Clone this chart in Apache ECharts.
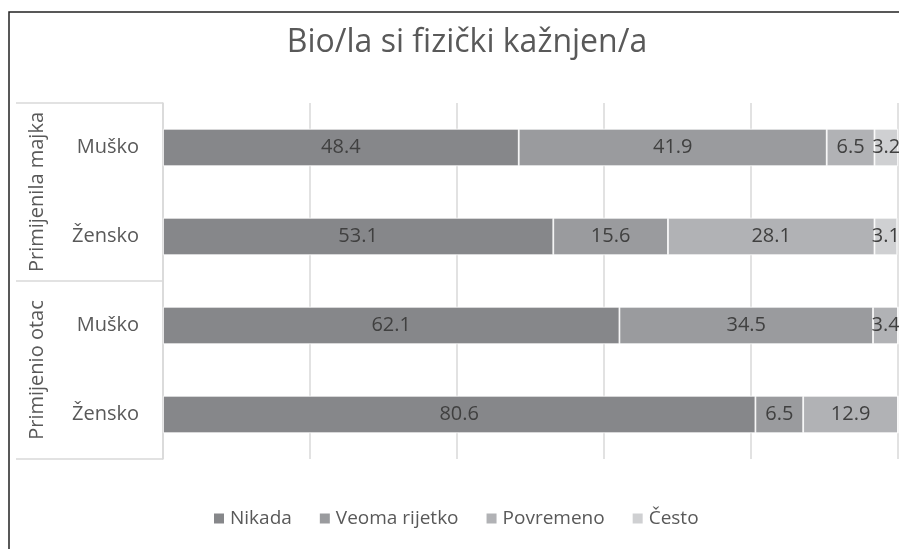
<!DOCTYPE html>
<html>
<head>
<meta charset="utf-8">
<script src="https://cdn.jsdelivr.net/npm/echarts@6/dist/echarts.min.js"></script>
<style>
html,body{margin:0;padding:0;background:#fff;overflow:hidden;}
#chart{width:899px;height:549px;}
</style>
</head>
<body>
<div id="chart"></div>
<script>
const titleText = 'Bio/la si fizički kažnjen/a';
const groups = ['Primijenila majka', 'Primijenio otac'];
const genders = ['Muško', 'Žensko'];
const seriesNames = ['Nikada', 'Veoma rijetko', 'Povremeno', 'Često'];
const nikada = [48.4, 53.1, 62.1, 80.6];
const veomaRijetko = [41.9, 15.6, 34.5, 6.5];
const povremeno = [6.5, 28.1, 3.4, 12.9];
const cesto = [3.2, 3.1, 0, 0];
const colors = ['#86878a', '#9a9b9e', '#b1b2b5', '#cfd0d2'];

const categories = [];
groups.forEach(g => genders.forEach(s => categories.push(g + '|' + s)));
const values = [nikada, veomaRijetko, povremeno, cesto];

const FONT = '"Open Sans", sans-serif';
const chart = echarts.init(document.getElementById('chart'));
chart.setOption({
  animation: false,
  textStyle: { fontFamily: FONT },
  title: {
    text: titleText,
    left: 462,
    textAlign: 'center',
    top: 22,
    textStyle: { fontFamily: FONT, fontSize: 32, fontWeight: 'normal', color: '#595959' }
  },
  legend: {
    data: seriesNames,
    left: 212,
    top: 509,
    padding: 0,
    itemWidth: 12,
    itemHeight: 12,
    itemGap: 26,
    icon: 'rect',
    textStyle: { fontFamily: FONT, fontSize: 19, color: '#595959' }
  },
  graphic: [{
    type: 'rect',
    shape: { x: 9, y: 12, width: 1000, height: 1000 },
    style: { fill: 'none', stroke: '#222', lineWidth: 1.5 },
    silent: true
  }],
  grid: { left: 163, right: 1, top: 103, bottom: 90, containLabel: false },
  xAxis: {
    type: 'value', min: 0, max: 100, interval: 20,
    axisLabel: { show: false }, axisLine: { show: false }, axisTick: { show: false },
    splitLine: { lineStyle: { color: '#d9d9d9', width: 1.5 } }
  },
  yAxis: [{
    type: 'category',
    data: categories,
    inverse: true,
    position: 'left',
    axisLine: { show: true, lineStyle: { color: '#d9d9d9', width: 1.5 } },
    axisTick: { show: false },
    axisLabel: {
      interval: 0, margin: 24, fontSize: 20, color: '#595959', fontFamily: FONT,
      formatter: v => v.split('|')[1]
    }
  }, {
    type: 'category',
    data: groups,
    inverse: true,
    position: 'left',
    offset: 0,
    axisLine: { show: false },
    axisTick: { show: true, interval: 0, length: 147, lineStyle: { color: '#d9d9d9', width: 1.5 } },
    axisLabel: { interval: 0, rotate: 90, margin: 116, fontSize: 20, color: '#595959', fontFamily: FONT }
  }],
  series: seriesNames.map((name, i) => ({
    name: name,
    type: 'bar',
    stack: 'total',
    yAxisIndex: 0,
    barCategoryGap: '58%',
    data: values[i],
    itemStyle: { color: colors[i], borderColor: '#ffffff', borderWidth: 0.8 },
    label: {
      show: true, position: 'inside', fontSize: 20, color: '#404040', fontFamily: FONT,
      formatter: p => (p.value ? p.value.toFixed(1) : '')
    }
  }))
});
</script>
</body>
</html>
